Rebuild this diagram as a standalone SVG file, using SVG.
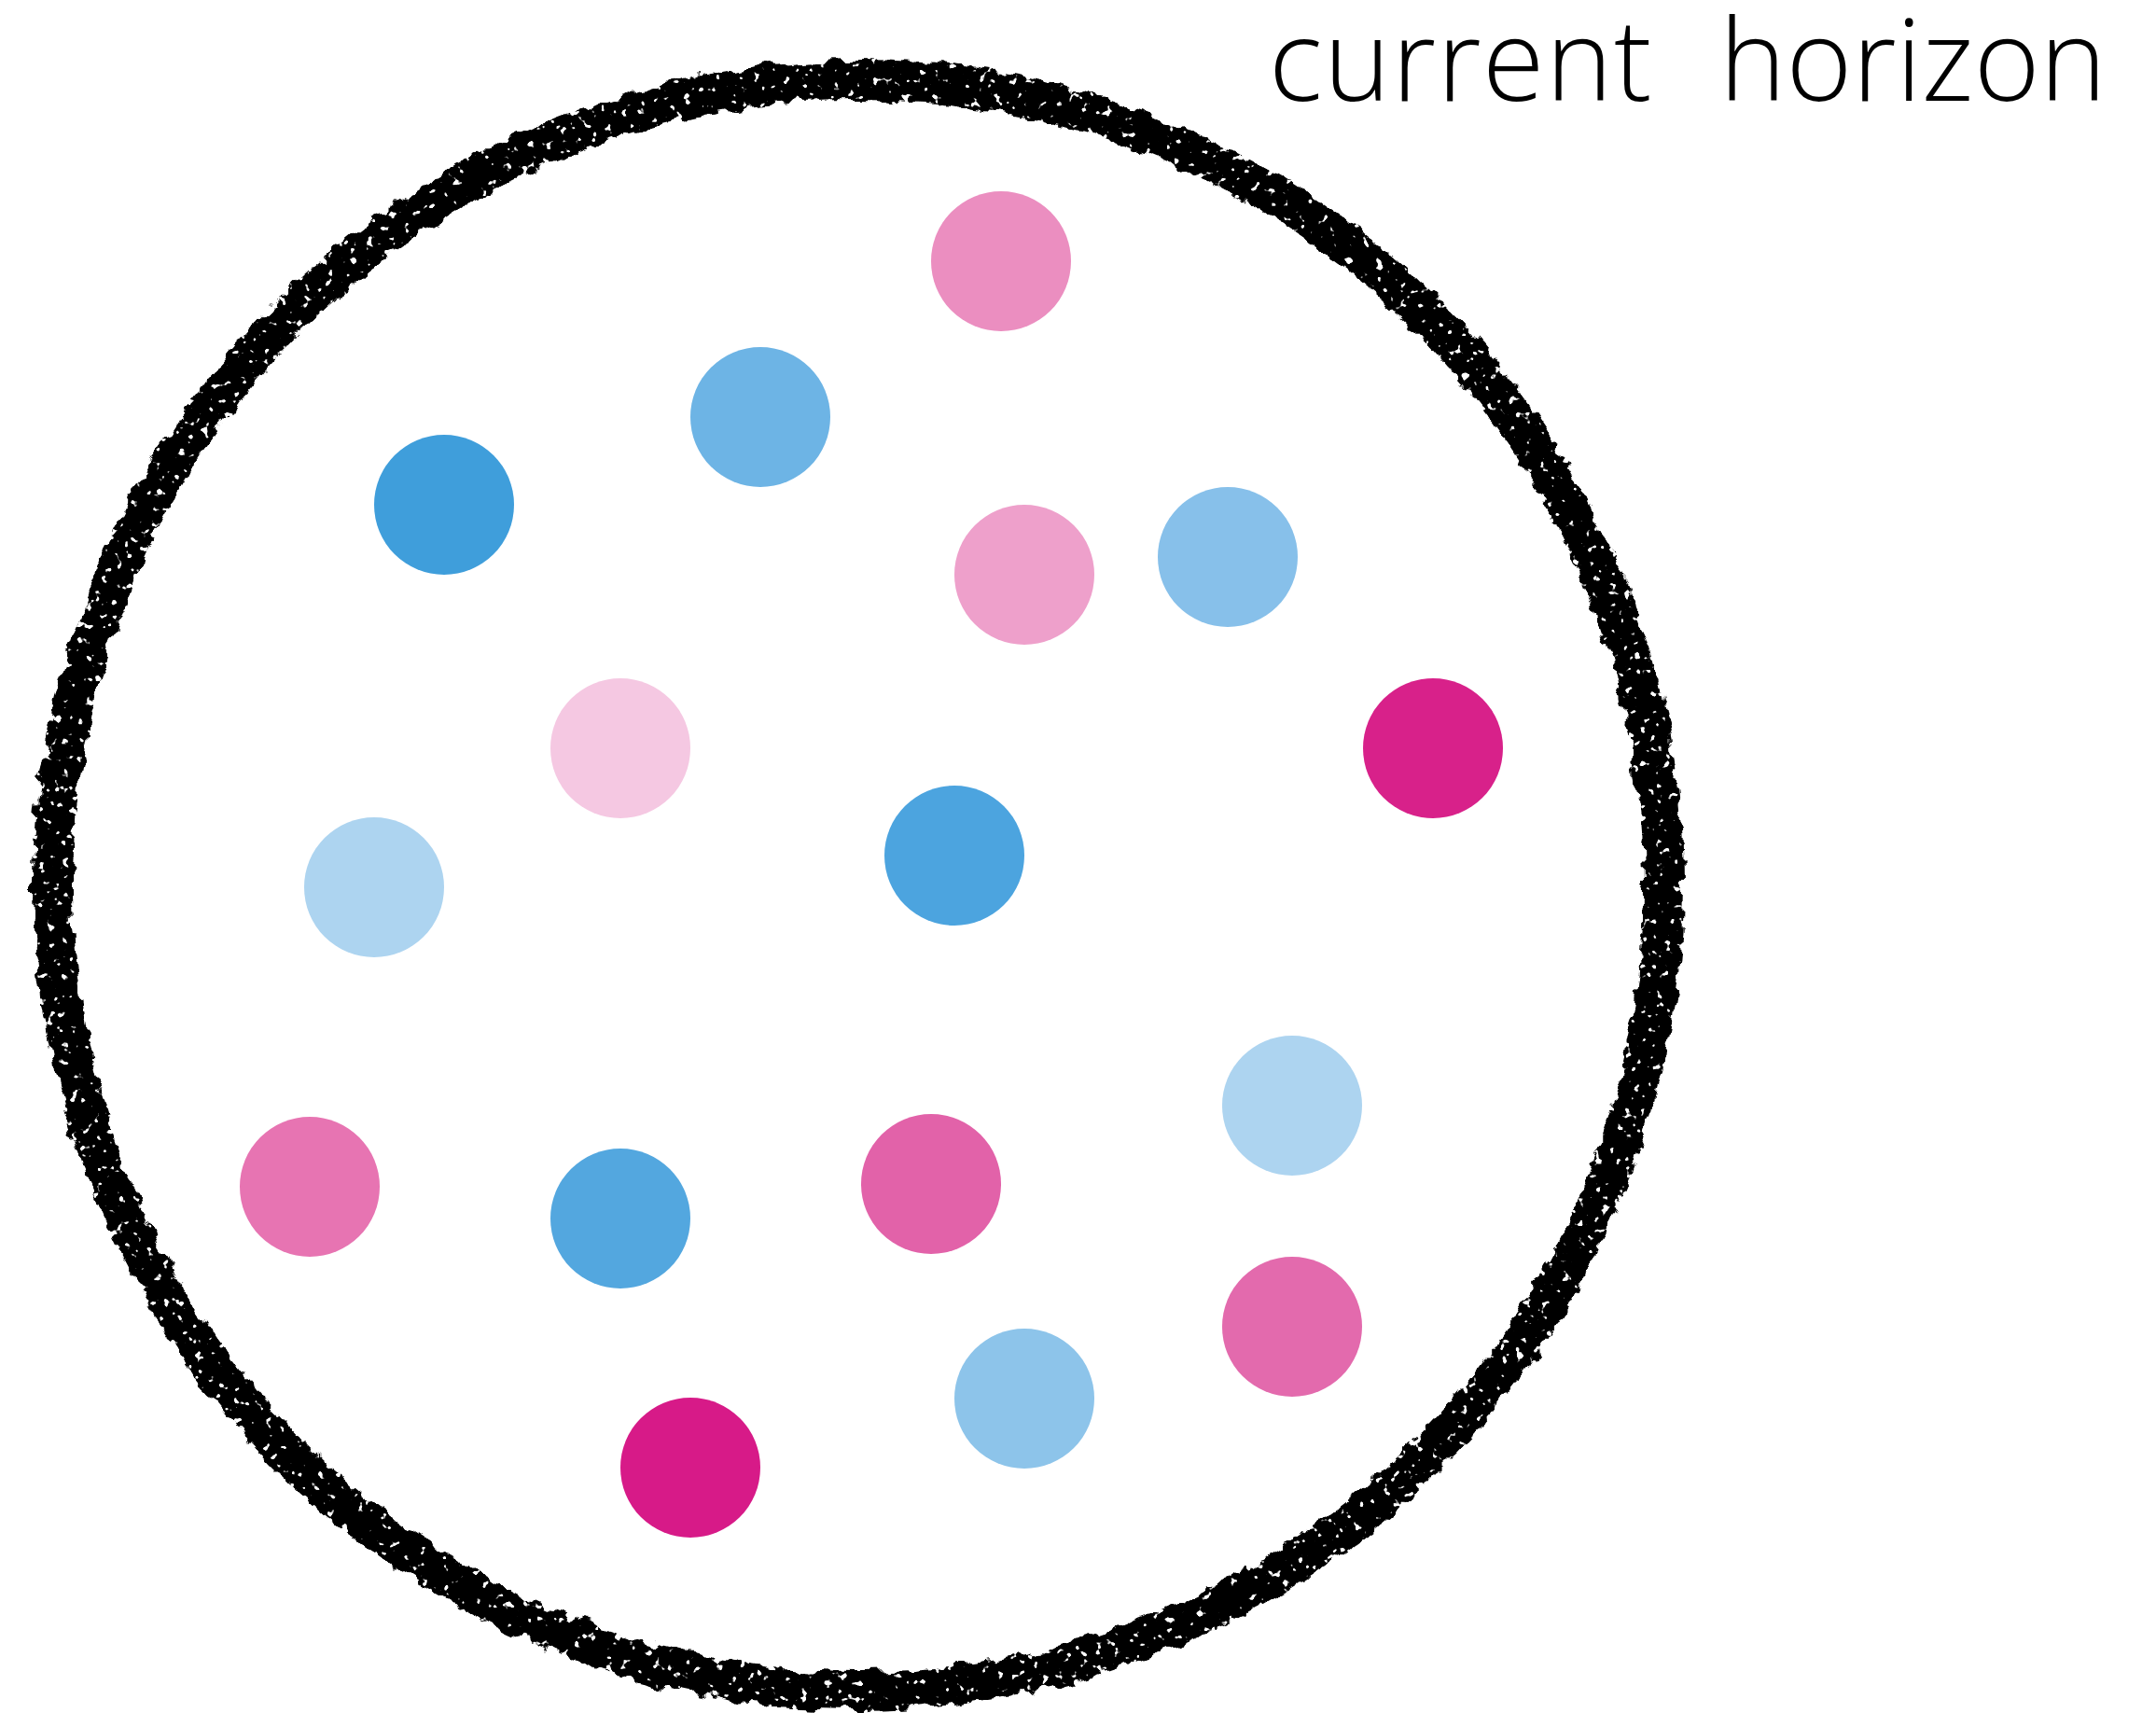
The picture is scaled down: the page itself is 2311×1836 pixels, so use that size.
<svg xmlns="http://www.w3.org/2000/svg" width="2311" height="1836" viewBox="0 0 2311 1836">
<defs>
<style>
.dot{stroke:none}
.label{font-family:"Open Sans","Noto Sans",sans-serif;font-weight:300;font-size:121px;fill:#000}
</style>
<filter id="rough" x="-5%" y="-5%" width="110%" height="110%">
<feTurbulence type="fractalNoise" baseFrequency="0.05" numOctaves="3" seed="3" result="n1"/>
<feDisplacementMap in="SourceGraphic" in2="n1" scale="18" xChannelSelector="R" yChannelSelector="G" result="d"/>
<feTurbulence type="fractalNoise" baseFrequency="0.12" numOctaves="2" seed="7" result="n2"/>
<feColorMatrix in="n2" type="matrix" values="0 0 0 0 0  0 0 0 0 0  0 0 0 0 0  -16 0 0 0 11.5" result="holes"/>
<feComposite in="d" in2="holes" operator="in"/>
</filter>
</defs>
<rect width="2311" height="1836" fill="#fff"/>
<g id="horizon">
<circle cx="920" cy="949" r="863" fill="none" stroke="#000" stroke-width="42" filter="url(#rough)"/>
</g>
<text id="label" class="label" y="108"><tspan x="1360" letter-spacing="1.5">current</tspan><tspan x="1843">horizon</tspan></text>
<g id="dots">
<circle id="d1" class="dot" cx="1073" cy="280" r="75" fill="#EB8EC0"/>
<circle id="d2" class="dot" cx="815" cy="447" r="75" fill="#6DB4E5"/>
<circle id="d3" class="dot" cx="476" cy="541" r="75" fill="#3F9EDB"/>
<circle id="d4" class="dot" cx="1098" cy="616" r="75" fill="#EEA0CB"/>
<circle id="d5" class="dot" cx="1316" cy="597" r="75" fill="#87C0EA"/>
<circle id="d6" class="dot" cx="665" cy="802" r="75" fill="#F5C8E2"/>
<circle id="d7" class="dot" cx="1536" cy="802" r="75" fill="#D8218A"/>
<circle id="d8" class="dot" cx="401" cy="951" r="75" fill="#ADD4F0"/>
<circle id="d9" class="dot" cx="1023" cy="917" r="75" fill="#4CA4DF"/>
<circle id="d10" class="dot" cx="1385" cy="1185" r="75" fill="#ADD4F0"/>
<circle id="d11" class="dot" cx="332" cy="1272" r="75" fill="#E774B2"/>
<circle id="d12" class="dot" cx="665" cy="1306" r="75" fill="#53A7DF"/>
<circle id="d13" class="dot" cx="998" cy="1269" r="75" fill="#E262A9"/>
<circle id="d14" class="dot" cx="1385" cy="1422" r="75" fill="#E36AAD"/>
<circle id="d15" class="dot" cx="1098" cy="1499" r="75" fill="#8DC4EA"/>
<circle id="d16" class="dot" cx="740" cy="1573" r="75" fill="#D71A88"/>
</g>
</svg>
